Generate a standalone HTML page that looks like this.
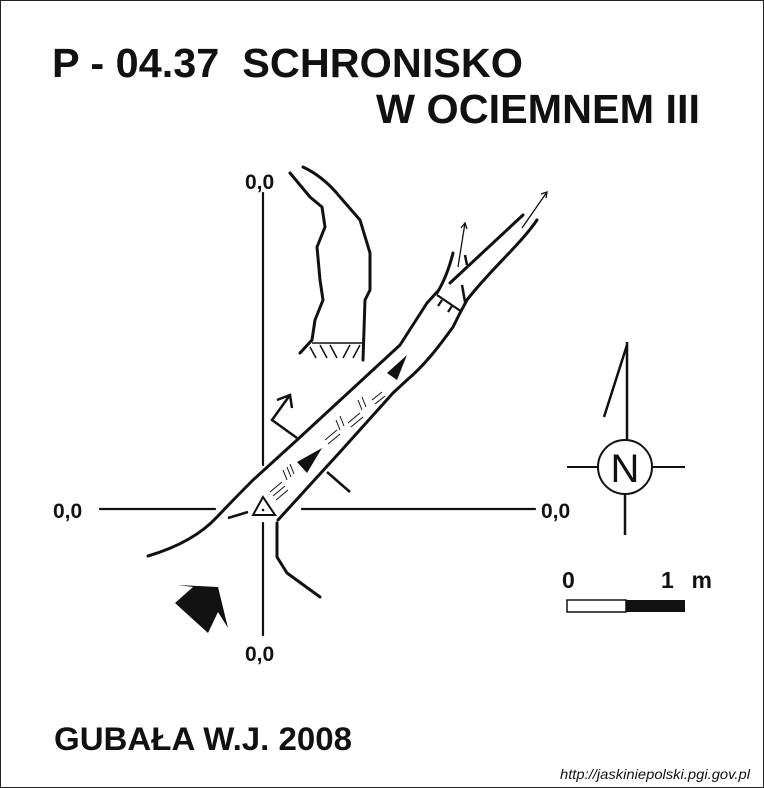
<!DOCTYPE html>
<html><head><meta charset="utf-8">
<style>
html,body{margin:0;padding:0;background:#fff;}
svg{display:block;}
text{font-family:"Liberation Sans",Arial,sans-serif;font-weight:bold;fill:#111;}
</style></head>
<body>
<svg width="764" height="788" viewBox="0 0 764 788">
<rect x="0.5" y="0.5" width="763" height="787" fill="#fff" stroke="#222" stroke-width="1"/>
<text x="52" y="77" font-size="41" textLength="471" lengthAdjust="spacingAndGlyphs" xml:space="preserve">P - 04.37  SCHRONISKO</text>
<text x="376" y="123" font-size="41" textLength="324" lengthAdjust="spacingAndGlyphs">W OCIEMNEM III</text>

<g stroke="#111" stroke-width="2.2" fill="none" stroke-linecap="round">
<line x1="263" y1="193" x2="263" y2="465"/>
<line x1="263" y1="523" x2="263" y2="635"/>
<line x1="100" y1="509" x2="215" y2="509"/>
<line x1="302" y1="509" x2="535" y2="509"/>
</g>
<text x="245" y="189" font-size="21">0,0</text>
<text x="245" y="661" font-size="21">0,0</text>
<text x="53" y="518" font-size="21">0,0</text>
<text x="541" y="518" font-size="21">0,0</text>

<g stroke="#111" stroke-width="3" fill="none" stroke-linecap="round" stroke-linejoin="round">
<path d="M148,556 C185,545 205,530 217,517 C235,498 245,488 253,480 L297,440 L400,345 L427,303 L437,292"/>
<path d="M437,293 C445,280 450,265 453,253"/>
<path d="M450,283 L523,215"/>
<path d="M278,520 L340,452 L393,393 L407,380 C425,365 440,345 453,327 L460,313 L467,300 C490,270 520,245 537,220"/>
<path d="M277,523 L277,557 L287,573 L320,597"/>
<path d="M290,173 L310,197 L322,207 L325,227 L317,247 L320,280 L323,300 L315,320 L312,340 L300,353"/>
<path d="M303,167 C320,175 332,187 340,197 L360,220 L370,253 L370,290 L365,300 L363,360"/>
</g>
<g stroke="#111" stroke-width="1.5" fill="none">
<line x1="312" y1="343" x2="363" y2="343"/>
<line x1="310" y1="347" x2="316" y2="358"/>
<line x1="320" y1="345" x2="327" y2="358"/>
<line x1="330" y1="345" x2="337" y2="358"/>
<line x1="350" y1="345" x2="343" y2="358"/>
<line x1="360" y1="345" x2="353" y2="358"/>
</g>
<g stroke="#111" stroke-width="2.2" fill="none">
<path d="M297,438 L272,420 L290,395 M277,400 L290,395 L292,408" stroke-width="2.5"/>
<line x1="327" y1="472" x2="350" y2="492" stroke-width="2.5"/>
<line x1="228" y1="518" x2="248" y2="512" stroke-width="2.5"/>
<line x1="437" y1="295" x2="462" y2="312"/>
<line x1="442" y1="300" x2="438" y2="306"/>
<line x1="452" y1="306" x2="448" y2="312"/>
<line x1="462" y1="285" x2="465" y2="302" stroke-width="2.5"/>
<line x1="465" y1="255" x2="467" y2="265" stroke-width="2.5"/>
<path d="M522,228 L547,192 M541,194 L547,192 L546,198" stroke-width="1.3"/>
<path d="M458,267 L465,223 M461,228 L465,223 L467,229" stroke-width="1.3"/>
</g>
<g stroke="#111" stroke-width="1">
<path d="M270,492 l12,-10 M273,496 l12,-10 M276,500 l12,-10 M287,480 l-4,-10 M291,477 l-4,-10 M294,474 l-4,-10"/>
<path d="M325,440 l12,-10 M328,444 l12,-10 M340,430 l-4,-10 M344,426 l-4,-10 M348,423 l12,-10 M351,427 l12,-10 M362,410 l-4,-10 M366,407 l-4,-10 M372,400 l10,-8 M375,404 l10,-8"/>
</g>
<polygon points="407,355 387,373 397,380" fill="#111"/>
<polygon points="322,448 297,462 307,473" fill="#111"/>
<polygon points="263,497 253,515 275,515" fill="#fff" stroke="#111" stroke-width="2"/>
<circle cx="263" cy="510" r="1.3" fill="#111"/>
<polygon points="175,603 193,587 178,585 218,587 228,628 218,612 208,633" fill="#111"/>

<g stroke="#111" stroke-width="2.5" fill="none">
<circle cx="625" cy="467" r="27" stroke-width="2"/>
<line x1="627" y1="342" x2="627" y2="440"/>
<line x1="627" y1="345" x2="604" y2="417"/>
<line x1="625" y1="494" x2="625" y2="535"/>
<line x1="567" y1="467" x2="598" y2="467" stroke-width="2"/>
<line x1="652" y1="467" x2="685" y2="467" stroke-width="2"/>
</g>
<text x="625" y="482" font-size="40" text-anchor="middle" style="font-weight:normal">N</text>

<rect x="567" y="600" width="59" height="12" fill="#fff" stroke="#111" stroke-width="1.5"/>
<rect x="626" y="600" width="59" height="12" fill="#111"/>
<text x="562" y="588" font-size="23">0</text>
<text x="661" y="588" font-size="23" textLength="51" lengthAdjust="spacing" xml:space="preserve">1  m</text>

<text x="54" y="750" font-size="32" textLength="298" lengthAdjust="spacingAndGlyphs">GUBAŁA W.J. 2008</text>
<text x="560" y="779" font-size="14" textLength="190" lengthAdjust="spacingAndGlyphs" style="font-weight:normal;font-style:italic">http://jaskiniepolski.pgi.gov.pl</text>
</svg>
</body></html>
